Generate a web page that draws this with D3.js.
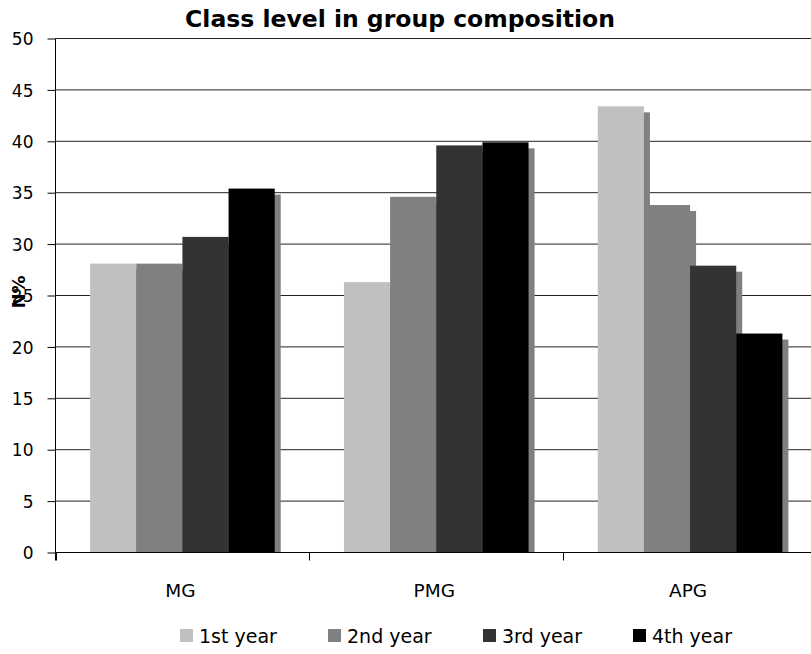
<!DOCTYPE html>
<html>
<head>
<meta charset="utf-8">
<script src="https://cdn.jsdelivr.net/npm/d3@7"></script>
<style>
  html, body { margin: 0; padding: 0; background: #fff; }
  svg { display: block; }
  text { font-family: "DejaVu Sans", Verdana, sans-serif; fill: #000; }
</style>
</head>
<body>
<svg id="chart" width="811" height="654"></svg>
<script>
// Share of each class level within the three groups (%)
const categories = ["MG", "PMG", "APG"];
const seriesNames = ["1st year", "2nd year", "3rd year", "4th year"];
const firstYear  = [28.1, 26.3, 43.4];
const secondYear = [28.1, 34.6, 33.8];
const thirdYear  = [30.7, 39.6, 27.9];
const fourthYear = [35.4, 39.9, 21.3];
const yTicks = [0, 5, 10, 15, 20, 25, 30, 35, 40, 45, 50];

const seriesValues = [firstYear, secondYear, thirdYear, fourthYear];
const seriesColors = ["#c0c0c0", "#808080", "#333333", "#000000"];
const shadowColor = "#808080";
const shadowOffset = 6;

const svg = d3.select("#chart");
const margin = { left: 55.5, right: 817, top: 38.5, bottom: 552.5 };

// category bands; bars take 4 of every 5.5 units (gap = 1.5 bar widths)
const x = d3.scaleBand()
  .domain(categories)
  .range([margin.left, margin.right])
  .paddingInner(1.5 / 5.5)
  .paddingOuter(0.75 / 5.5);

const x0 = d3.scaleBand().domain(categories).range([margin.left, margin.right]);

const xs = d3.scaleBand()
  .domain(seriesNames)
  .range([0, x.bandwidth()]);

const y = d3.scaleLinear().domain([0, 50]).range([margin.bottom, margin.top]);

// Horizontal gridlines
svg.append("g")
  .selectAll("line")
  .data(yTicks)
  .join("line")
  .attr("x1", margin.left)
  .attr("x2", margin.right)
  .attr("y1", d => y(d))
  .attr("y2", d => y(d))
  .attr("stroke", "#222")
  .attr("stroke-width", 1);

// Clip shadows to the plotting area
svg.append("clipPath").attr("id", "plotClip")
  .append("rect")
  .attr("x", margin.left).attr("y", 0)
  .attr("width", margin.right - margin.left)
  .attr("height", margin.bottom);

const barsG = svg.append("g").attr("clip-path", "url(#plotClip)");

seriesNames.forEach((name, si) => {
  const g = barsG.append("g");
  const vals = seriesValues[si];
  // drop shadow, offset down and to the right
  g.selectAll("rect.shadow")
    .data(vals)
    .join("rect")
    .attr("class", "shadow")
    .attr("x", (d, i) => x(categories[i]) + xs(name) + shadowOffset)
    .attr("y", d => y(d) + shadowOffset)
    .attr("width", xs.bandwidth())
    .attr("height", d => y(0) - y(d))
    .attr("fill", shadowColor);
  // bar
  g.selectAll("rect.bar")
    .data(vals)
    .join("rect")
    .attr("class", "bar")
    .attr("x", (d, i) => x(categories[i]) + xs(name))
    .attr("y", d => y(d))
    .attr("width", xs.bandwidth())
    .attr("height", d => y(0) - y(d))
    .attr("fill", seriesColors[si]);
});

// Y axis
const yAxis = d3.axisLeft(y)
  .tickValues(yTicks)
  .tickSize(8)
  .tickPadding(14)
  .tickFormat(d3.format("d"));

const yG = svg.append("g")
  .attr("transform", `translate(${margin.left},0)`)
  .call(yAxis);
yG.select(".domain").attr("stroke", "#000").attr("d", `M0,${margin.top}V${margin.bottom + 8}`);
yG.selectAll(".tick line").attr("stroke", "#000");
yG.selectAll(".tick text")
  .style("font-family", "'DejaVu Sans', Verdana, sans-serif")
  .style("font-size", "17px")
  .attr("dy", "0.36em")
  .attr("fill", "#000");

// X axis baseline
const xAxis = d3.axisBottom(x0).tickSize(0).tickFormat("");
const xG = svg.append("g")
  .attr("transform", `translate(0,${margin.bottom})`)
  .call(xAxis);
xG.select(".domain").attr("stroke", "#000").attr("d", `M${margin.left},0H${margin.right}`);

// category labels
svg.append("g")
  .selectAll("text")
  .data(categories)
  .join("text")
  .attr("x", d => x0(d) + x0.bandwidth() / 2 - 2)
  .attr("y", 597)
  .attr("text-anchor", "middle")
  .style("font-size", "18.5px")
  .text(d => d);

// category boundary ticks
svg.append("g")
  .selectAll("line")
  .data(categories)
  .join("line")
  .attr("x1", d => Math.round(x0(d)) + 0.5)
  .attr("x2", d => Math.round(x0(d)) + 0.5)
  .attr("y1", margin.bottom)
  .attr("y2", margin.bottom + 8)
  .attr("stroke", "#000");

// Title
svg.append("text")
  .attr("x", 400)
  .attr("y", 27)
  .attr("text-anchor", "middle")
  .style("font-size", "23.5px")
  .style("font-weight", "bold")
  .text("Class level in group composition");

// Y axis title
svg.append("text")
  .attr("transform", "translate(25,292) rotate(-90)")
  .attr("text-anchor", "middle")
  .style("font-size", "18px")
  .style("font-weight", "bold")
  .text("N%");

// Legend
const legendX = [180, 328, 483, 633];
const legend = svg.append("g");
seriesNames.forEach((name, i) => {
  legend.append("rect")
    .attr("x", legendX[i])
    .attr("y", 629)
    .attr("width", 13)
    .attr("height", 13)
    .attr("fill", seriesColors[i]);
  legend.append("text")
    .attr("x", legendX[i] + 19)
    .attr("y", 643)
    .style("font-size", "19px")
    .text(name);
});
</script>
</body>
</html>
